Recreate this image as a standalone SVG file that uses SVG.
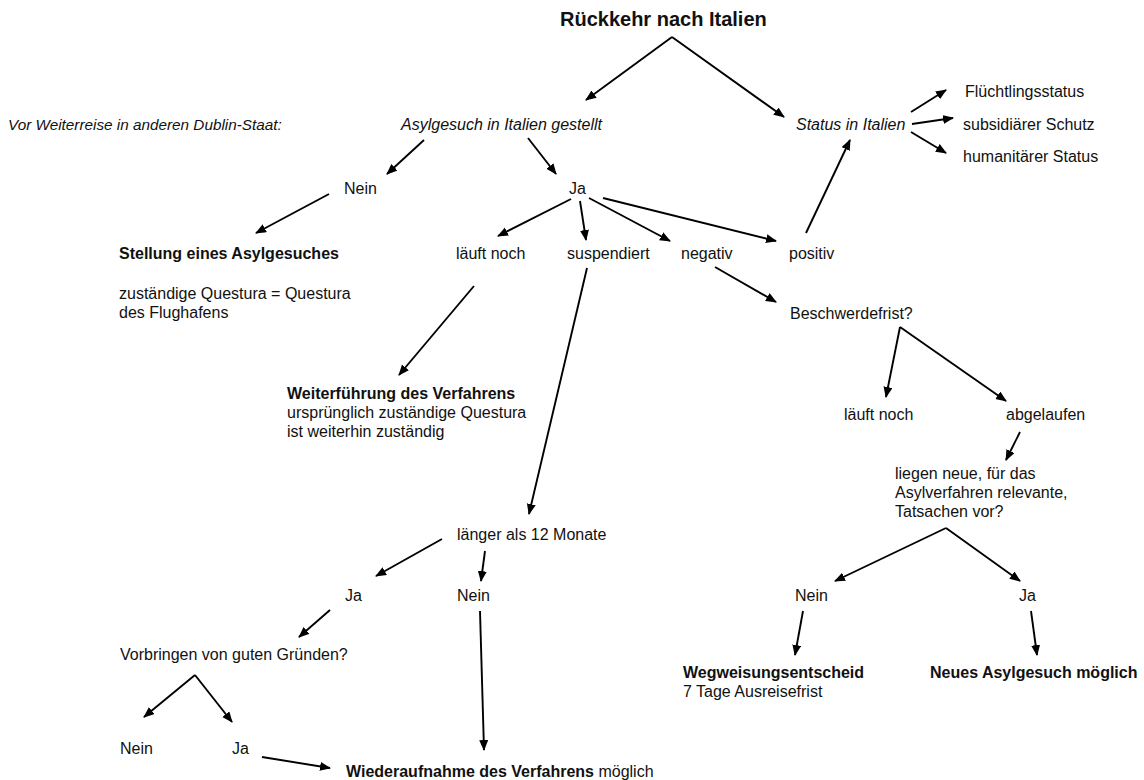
<svg xmlns="http://www.w3.org/2000/svg" width="1144" height="780" viewBox="0 0 1144 780">
<style>
text{font-family:"Liberation Sans",Arial,sans-serif;font-size:16px;fill:#111}
.b{font-weight:bold}
.i{font-style:italic}
.t{font-weight:bold;font-size:20px}
.c line{stroke:#000;stroke-width:1.9;marker-end:url(#ah)}
</style>
<defs>
<marker id="ah" markerUnits="userSpaceOnUse" markerWidth="12" markerHeight="10" refX="10" refY="4.5" orient="auto">
<path d="M0,0 L11,4.5 L0,9 z" fill="#000"/>
</marker>
</defs>
<rect width="1144" height="780" fill="#fff"/>
<g class="c" id="connectors">
<line x1="672" y1="37" x2="586" y2="100"/>
<line x1="672" y1="37" x2="784" y2="117"/>
<line x1="911" y1="112" x2="946" y2="90"/>
<line x1="912" y1="124" x2="953" y2="118"/>
<line x1="911" y1="132" x2="946" y2="153"/>
<line x1="424" y1="140" x2="387" y2="174"/>
<line x1="528" y1="138" x2="556" y2="174"/>
<line x1="329" y1="194" x2="256" y2="233"/>
<line x1="571" y1="199" x2="498" y2="236"/>
<line x1="580" y1="201" x2="586" y2="240"/>
<line x1="589" y1="198" x2="670" y2="241"/>
<line x1="603" y1="198" x2="776" y2="241"/>
<line x1="806" y1="233" x2="850" y2="140"/>
<line x1="715" y1="267" x2="776" y2="302"/>
<line x1="474" y1="286" x2="399" y2="375"/>
<line x1="587" y1="268" x2="529" y2="514"/>
<line x1="900" y1="327" x2="886" y2="397"/>
<line x1="900" y1="327" x2="1006" y2="401"/>
<line x1="1020" y1="432" x2="1006" y2="460"/>
<line x1="946" y1="528" x2="835" y2="581"/>
<line x1="946" y1="528" x2="1020" y2="581"/>
<line x1="803" y1="611" x2="795" y2="655"/>
<line x1="1031" y1="611" x2="1037" y2="655"/>
<line x1="442" y1="539" x2="376" y2="576"/>
<line x1="485" y1="551" x2="481" y2="581"/>
<line x1="330" y1="610" x2="299" y2="637"/>
<line x1="195" y1="675" x2="144" y2="717"/>
<line x1="195" y1="675" x2="232" y2="722"/>
<line x1="480" y1="611" x2="484" y2="750"/>
<line x1="262" y1="757" x2="330" y2="768"/>
</g>
<g id="n-title"><text class="t" x="560" y="26">Rückkehr nach Italien</text></g>
<g id="n-vor"><text class="i" x="8" y="130" style="font-size:15.3px">Vor Weiterreise in anderen Dublin-Staat:</text></g>
<g id="n-asyl"><text class="i" x="401" y="130">Asylgesuch in Italien gestellt</text></g>
<g id="n-status"><text class="i" x="796" y="130">Status in Italien</text></g>
<g id="n-fluecht"><text x="965" y="97">Flüchtlingsstatus</text></g>
<g id="n-subs"><text x="963" y="130">subsidiärer Schutz</text></g>
<g id="n-human"><text x="963" y="162">humanitärer Status</text></g>
<g id="n-nein1"><text x="344" y="194">Nein</text></g>
<g id="n-ja1"><text x="569" y="194">Ja</text></g>
<g id="n-stellung"><text class="b" x="119" y="259">Stellung eines Asylgesuches</text>
<text x="119" y="299">zuständige Questura = Questura</text>
<text x="119" y="318">des Flughafens</text></g>
<g id="n-laeuft1"><text x="456" y="259">läuft noch</text></g>
<g id="n-susp"><text x="567" y="259">suspendiert</text></g>
<g id="n-neg"><text x="681" y="259">negativ</text></g>
<g id="n-pos"><text x="789" y="259">positiv</text></g>
<g id="n-beschw"><text x="790" y="319">Beschwerdefrist?</text></g>
<g id="n-weiter"><text class="b" x="287" y="399">Weiterführung des Verfahrens</text>
<text x="287" y="418">ursprünglich zuständige Questura</text>
<text x="287" y="437">ist weiterhin zuständig</text></g>
<g id="n-laeuft2"><text x="844" y="420">läuft noch</text></g>
<g id="n-abgel"><text x="1006" y="420">abgelaufen</text></g>
<g id="n-liegen"><text x="895" y="479">liegen neue, für das</text>
<text x="895" y="498">Asylverfahren relevante,</text>
<text x="895" y="517">Tatsachen vor?</text></g>
<g id="n-laenger"><text x="457" y="540">länger als 12 Monate</text></g>
<g id="n-ja2"><text x="345" y="601">Ja</text></g>
<g id="n-nein2"><text x="457" y="601">Nein</text></g>
<g id="n-vorbr"><text x="120" y="660">Vorbringen von guten Gründen?</text></g>
<g id="n-nein3"><text x="120" y="754">Nein</text></g>
<g id="n-ja3"><text x="232" y="754">Ja</text></g>
<g id="n-wieder"><text x="346" y="777"><tspan class="b">Wiederaufnahme des Verfahrens</tspan> möglich</text></g>
<g id="n-nein4"><text x="795" y="601">Nein</text></g>
<g id="n-ja4"><text x="1019" y="601">Ja</text></g>
<g id="n-weg"><text class="b" x="683" y="678">Wegweisungsentscheid</text>
<text x="683" y="697">7 Tage Ausreisefrist</text></g>
<g id="n-neues"><text class="b" x="930" y="678">Neues Asylgesuch möglich</text></g>
</svg>
